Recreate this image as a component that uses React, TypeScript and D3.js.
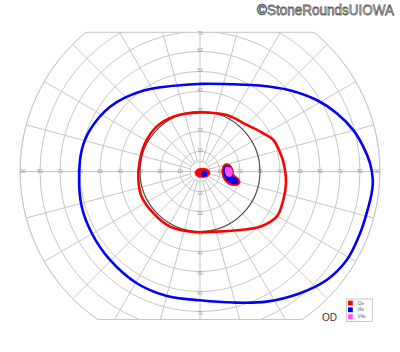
import React from "react";
import * as d3 from "d3";

// Goldmann visual field (OD). Points are [meridian angle in degrees, eccentricity in degrees]
const ringDegrees = [5, 10, 20, 30, 40, 50, 60, 70, 80, 90];
const spokeAngles = [0, 15, 30, 45, 60, 75, 90, 105, 120, 135, 150, 165, 180, 195, 210, 225, 240, 255, 270, 285, 300, 315, 330, 345];
const horizontalLabels = [10, 20, 30, 40, 50, 60, 70, 80, 90];
const verticalLabels = [10, 20, 30, 40, 50, 60, 70];
const legendNames = ["I2e", "I4e", "V4e"];
const legendColors = ["#ff0000", "#0000ff", "#ff55ff"];

const i4eOuter: [number, number][] = [
  [90, 43.8], [69.3, 46.6], [55.3, 52.3], [42.2, 60.5], [31.5, 68.4], [23.1, 74.3],
  [15.1, 79.4], [8.6, 82.6], [2.8, 85.1], [-2.8, 86.5], [-7.2, 86.5], [-14.1, 85.9],
  [-21.1, 85.8], [-31.1, 85.7], [-40.6, 83.4], [-50.6, 78.8], [-62.9, 73.1], [-75.8, 67.6],
  [-90, 64.4], [-104.9, 64.4], [-119.5, 64.2], [-135.5, 63.1], [-150.3, 62.3], [-163.4, 61.7],
  [-176, 60.6], [169.7, 60.1], [159.3, 58.8], [144.2, 55.4], [124.8, 49.3],
];

const i2eOuter: [number, number][] = [
  [90, 29.5], [64.7, 31.2], [44.9, 33.0], [31.1, 37.0], [23.3, 39.9], [10.3, 41.5],
  [1.0, 42.5], [-7.8, 43.4], [-18.9, 44.0], [-30.5, 44.5], [-42.6, 40.8], [-55.6, 35.4],
  [-74.6, 31.2], [-96.3, 30.4], [-118.5, 31.4], [-138.2, 31.3], [-156.6, 31.8], [-172.2, 31.1],
  [172.3, 30.6], [152.9, 30.9], [134.0, 31.2], [116.0, 30.5],
];

const i2eBlindSpot: [number, number][] = [
  [16.7, 13.05], [12.2, 15.35], [3.8, 16.4], [-5.9, 17.1], [-10.1, 19.45], [-15.6, 20.8],
  [-20.6, 19.6], [-23.7, 16.4], [-20.2, 13.3], [-8.9, 11.3], [8.2, 11.25],
];
const i4eBlindSpot: [number, number][] = [
  [13.2, 13.1], [9.9, 15.1], [2.7, 15.8], [-6.9, 16.6], [-11.4, 19.0], [-16.0, 20.1],
  [-19.05, 19.15], [-21.3, 16.4], [-17.7, 13.65], [-7.5, 11.9], [7.0, 11.9],
];
const v4eBlindSpot: [number, number][] = [
  [9.3, 13.0], [8.0, 15.15], [1.4, 16.15], [-6.2, 16.25], [-9.8, 15.2], [-9.6, 13.5], [-0.5, 12.5],
];
const i2eCentral: [number, number][] = [
  [194.6, 2.6], [146.3, 1.8], [52, 2.0], [14, 4.1], [-8.5, 5.06], [-37.1, 4.4], [-80.2, 2.94], [-127.9, 2.85],
];
const i4eCentral: [number, number][] = [
  [-65.6, 1.2], [14, 1.03], [10.1, 2.29], [-7.9, 3.6], [-32.3, 4.0], [-56, 3.1], [-74.4, 2.2],
];

const W = 400;
const H = 352;
const cx = 200;
const cy = 171.5;
const topLimit = 69.6;
const bottomLimit = 74;

export default function App() {
  const r = d3.scaleLinear().domain([0, 90]).range([0, 180]);
  const proj = (p: [number, number]): [number, number] => {
    const a = (p[0] * Math.PI) / 180;
    return [cx + r(p[1]) * Math.cos(a), cy - r(p[1]) * Math.sin(a)];
  };
  const closed = d3.line<[number, number]>().curve(d3.curveCatmullRomClosed.alpha(0.5));
  const pathOf = (pts: [number, number][]) => closed(pts.map(proj)) || "";

  const R = r(90);
  const topY = cy - r(topLimit);
  const botY = cy + r(bottomLimit);
  const dxT = Math.sqrt(R * R - (cy - topY) ** 2);
  const dxB = Math.sqrt(R * R - (botY - cy) ** 2);
  const boundary = `M${cx - dxT},${topY}L${cx + dxT},${topY}A${R},${R} 0 0 1 ${cx + dxB},${botY}L${cx - dxB},${botY}A${R},${R} 0 0 1 ${cx - dxT},${topY}Z`;

  const grid = "#c6c6c6";
  const labelColor = "#9a9a9a";

  return (
    <div style={{ position: "absolute", left: 0, top: 0 }}>
      <svg width={W} height={H} viewBox={`0 0 ${W} ${H}`} style={{ display: "block", background: "#fff" }}>
        <defs>
          <clipPath id="fieldClip">
            <path d={boundary} />
          </clipPath>
        </defs>
        <g clipPath="url(#fieldClip)" fill="none" stroke={grid} strokeWidth={1}>
          {ringDegrees.map((d) => (
            <circle key={d} cx={cx} cy={cy} r={r(d)} />
          ))}
          {spokeAngles.map((a) => {
            const inner = a % 90 === 0 ? 0 : 5;
            const p0 = proj([a, inner]);
            const p1 = proj([a, 95]);
            return <line key={a} x1={p0[0]} y1={p0[1]} x2={p1[0]} y2={p1[1]} />;
          })}
        </g>
        <path d={boundary} fill="none" stroke={grid} strokeWidth={1} />
        <g fontFamily="Liberation Sans, Arial, sans-serif" fontSize={5} fill={labelColor} textAnchor="middle">
          {horizontalLabels.map((d) => {
            const off = d === 90 ? -3 : 0;
            return (
              <g key={d}>
                <text x={cx - r(d) - off} y={cy} dy="0.35em">{d}</text>
                <text x={cx + r(d) + off} y={cy} dy="0.35em">{d}</text>
              </g>
            );
          })}
          {verticalLabels.map((d) => (
            <g key={d}>
              <text x={cx} y={cy - r(d) - 1 + (d === 70 ? 3 : 0)} dy="0.35em">{d}</text>
              <text x={cx} y={cy + r(d) + 1.5} dy="0.35em">{d}</text>
            </g>
          ))}
        </g>
        <circle cx={cx} cy={cy} r={r(30)} fill="none" stroke="#4a4a4a" strokeWidth={1.1} />
        <path d={pathOf(i4eOuter)} fill="none" stroke="#0000ff" strokeWidth={2.6} />
        <path d={pathOf(i2eOuter)} fill="none" stroke="#ff0000" strokeWidth={2.6} />
        <path d={pathOf(i2eBlindSpot)} fill="#ff0000" stroke="#ff0000" strokeWidth={1} />
        <path d={pathOf(i4eBlindSpot)} fill="#0000ff" stroke="none" />
        <path d={pathOf(v4eBlindSpot)} fill="#ff55ff" stroke="none" />
        <path d={pathOf(i2eCentral)} fill="#ff0000" stroke="#ff0000" strokeWidth={0.8} />
        <path d={pathOf(i4eCentral)} fill="#0000ff" stroke="none" />
        <g>
          <rect x={346.5} y={299} width={26} height={22.5} fill="#fff" stroke="#bdbdbd" strokeWidth={0.8} />
          {legendNames.map((n, i) => (
            <g key={n}>
              <rect x={348} y={300.6 + i * 6.8} width={4.8} height={4.8} fill={legendColors[i]} />
              <text x={357.5} y={303 + i * 6.8} dy="0.35em" fontSize={4.6} fill="#666" fontFamily="Liberation Sans, Arial, sans-serif">{n}</text>
            </g>
          ))}
        </g>
        <text x={322} y={320.5} fontSize={10} fill="#333" fontFamily="Liberation Sans, Arial, sans-serif">OD</text>
        <text x={394} y={15.2} textAnchor="end" fontSize={14.5} textLength={137} lengthAdjust="spacingAndGlyphs" fill="#fff" stroke="#5a5a5a" strokeWidth={0.8} fontFamily="Liberation Sans, Arial, sans-serif">©StoneRoundsUIOWA</text>
      </svg>
    </div>
  );
}
